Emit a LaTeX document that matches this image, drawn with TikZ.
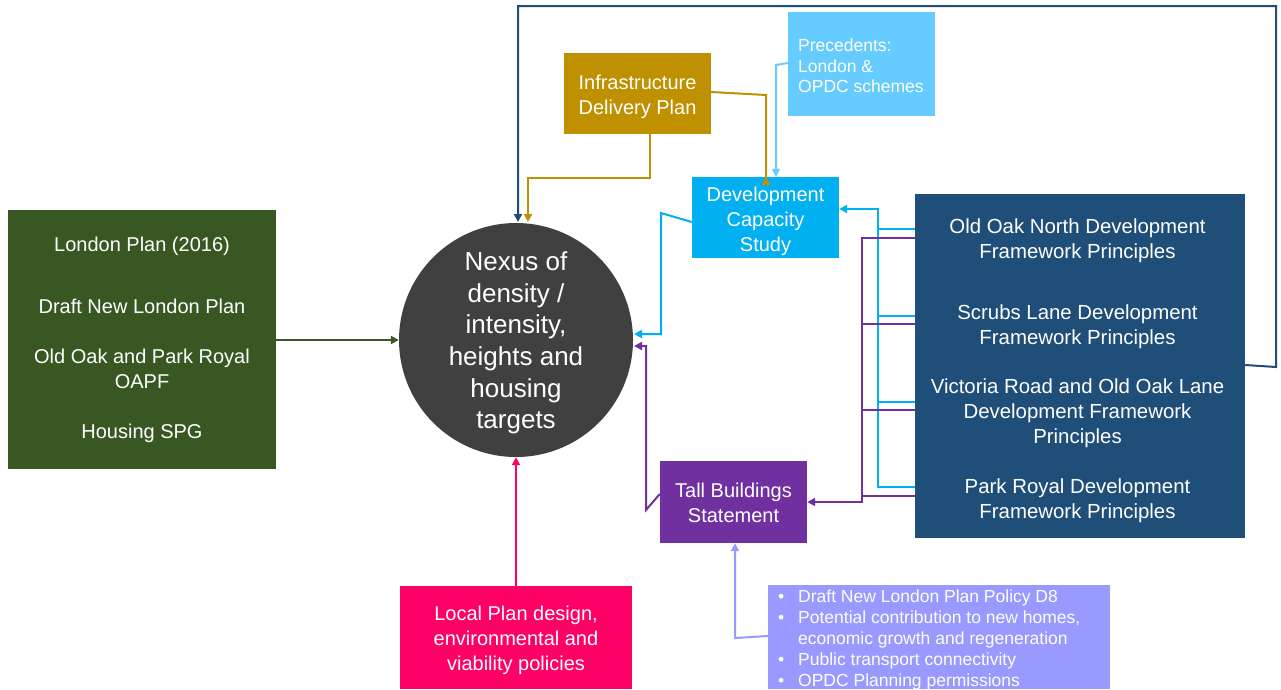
\documentclass[tikz,border=0pt]{standalone}
\usepackage{fontspec}
\setmainfont{Liberation Sans}
\usetikzlibrary{arrows.meta}
\definecolor{cgreen}{HTML}{385723}
\definecolor{cgray}{HTML}{404040}
\definecolor{cgold}{HTML}{BF9000}
\definecolor{clight}{HTML}{66CCFF}
\definecolor{ccyan}{HTML}{00B0F0}
\definecolor{cnavy}{HTML}{1F4E79}
\definecolor{cpurple}{HTML}{7030A0}
\definecolor{cpink}{HTML}{FF0066}
\definecolor{clav}{HTML}{9999FF}
\tikzset{
  box/.style={rectangle, inner sep=0pt},
  txt/.style={inner sep=0pt, text=white, align=center,
    font=\fontsize{20}{25}\selectfont},
  conn/.style={line width=2pt, -{Triangle[length=8pt,width=8pt]}},
  plain/.style={line width=2pt},
}
\begin{document}
\begin{tikzpicture}[x=1pt,y=-1pt]
\useasboundingbox (0,0) rectangle (1281,689);
% boxes
\node[box, fill=cgreen, minimum width=268pt, minimum height=259pt] (lp) at (142,339.5) {};
\node[circle, fill=cgray, inner sep=0pt, minimum size=234pt] (nx) at (516,340) {};
\node[box, fill=cgold, minimum width=147pt, minimum height=81pt] (idp) at (637.5,93.5) {};
\node[box, fill=clight, minimum width=147pt, minimum height=104pt] (pr) at (861.5,64) {};
\node[box, fill=ccyan, minimum width=147pt, minimum height=81pt] (dcs) at (765.5,217.5) {};
\node[box, fill=cnavy, minimum width=330pt, minimum height=344pt] (df) at (1080,366) {};
\node[box, fill=cpurple, minimum width=147pt, minimum height=82pt] (tb) at (733.5,502) {};
\node[box, fill=cpink, minimum width=232pt, minimum height=103pt] (lo) at (516,637.5) {};
\node[box, fill=clav, minimum width=342pt, minimum height=104pt] (bu) at (939,637) {};
% texts
\node[txt] (lpt) at ([yshift=0pt]lp.center)
  {London Plan (2016)\\[37pt]Draft New London Plan\\[25pt]Old Oak and Park Royal\\OAPF\\[25pt]Housing SPG};
\node[txt, font=\fontsize{26}{31.6}\selectfont] (nxt) at ([yshift=-3pt]nx.center)
  {Nexus of\\density /\\intensity,\\heights and\\housing\\targets};
\node[txt] (idpt) at ([yshift=-3pt]idp.center) {Infrastructure\\Delivery Plan};
\node[txt, anchor=west, align=left, font=\fontsize{17.5}{20.7}\selectfont] (prt)
  at ([yshift=-2pt]pr.west -| 798,0) {Precedents:\\London \&\\OPDC schemes};
\node[txt] (dcst) at ([yshift=-3.5pt]dcs.center) {Development\\Capacity\\Study};
\node[txt, font=\fontsize{20.4}{25}\selectfont] (dft) at ([xshift=-2.5pt,yshift=-4.5pt]df.center)
  {Old Oak North Development\\Framework Principles\\[36pt]Scrubs Lane Development\\Framework Principles\\[24pt]Victoria Road and Old Oak Lane\\Development Framework\\Principles\\[25pt]Park Royal Development\\Framework Principles};
\node[txt] (tbt) at ([yshift=-1pt]tb.center) {Tall Buildings\\Statement};
\node[txt] (lot) at ([yshift=-2.5pt]lo.center) {Local Plan design,\\environmental and\\viability policies};
\node[txt, anchor=west, align=left, font=\fontsize{17.5}{21}\selectfont] (but)
  at ([yshift=-3pt]bu.west -| 778,0)
  {\makebox[20pt][l]{•}Draft New London Plan Policy D8\\
   \makebox[20pt][l]{•}Potential contribution to new homes,\\
   \hspace*{20pt}economic growth and regeneration\\
   \makebox[20pt][l]{•}Public transport connectivity\\
   \makebox[20pt][l]{•}OPDC Planning permissions};
% helper coordinates
\coordinate (nxtopA) at (518,222);
\coordinate (nxtopB) at (528,222);
% connectors
\draw[conn, cgreen] (lp.east |- 0,340) -- (nx.west |- 0,340);
\draw[conn, cpink] (lo.north) -- (nx.south);
\draw[conn, cnavy] ([yshift=1pt]df.east) -- (1276,367) -- (1276,6) -- (518,6) -- (nxtopA);
\draw[conn, cgold] ([xshift=12.5pt]idp.south) -- (650,178) -- (528,178) -- (nxtopB);
\draw[conn, cgold] ([yshift=1.5pt]idp.east) -- (766,95) -- (766 ,177) -- ([xshift=0.5pt]dcs.north);
\draw[conn, clight] ([yshift=1pt]pr.west) -- (776,65) -- ([xshift=10.5pt]dcs.north);
\draw[conn, ccyan] ([yshift=-4.5pt]dcs.west) -- (661,213) -- (661,334) -- (634,334);
\draw[conn, cpurple] ([yshift=8pt]tb.west) -- (646,510) -- (646,346) -- (634,346);
\draw[conn, clav] ([yshift=1pt]bu.west) -- (735,638) -- (tb.south -| 735,0);
% cyan bus
\foreach \yy in {229,316,402,487} \draw[plain, ccyan] (df.west |- 0,\yy) -- (878,\yy);
\draw[plain, ccyan] (878,488) -- (878,209);
\draw[conn, ccyan] (879,209) -- (dcs.east |- 0,209);
% purple bus
\foreach \yy in {238,324,410,496} \draw[plain, cpurple] (df.west |- 0,\yy) -- (862,\yy);
\draw[plain, cpurple] (862,237) -- (862,502);
\draw[conn, cpurple] (863,502) -- (tb.east |- 0,502);
\end{tikzpicture}
\end{document}
